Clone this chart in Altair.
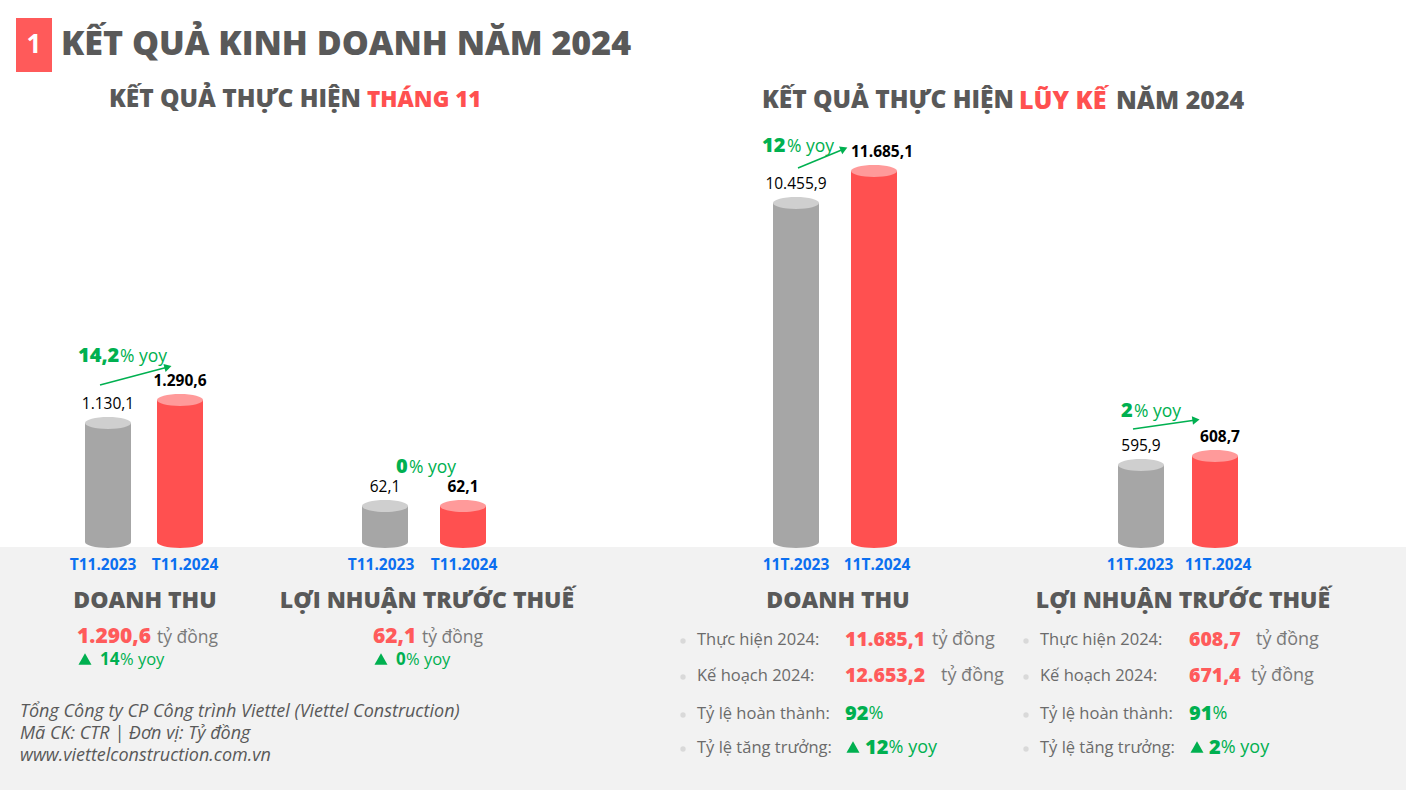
import altair as alt
import pandas as pd

# ---------------- data ----------------
month_cats = ["T11.2023", "T11.2024"]
month_revenue = [1130.1, 1290.6]
month_profit = [62.1, 62.1]
ytd_cats = ["11T.2023", "11T.2024"]
ytd_revenue = [10455.9, 11685.1]
ytd_profit = [595.9, 608.7]
chart_yoy = ["14,2", "0", "12", "2"]          # yoy labels above the bar pairs
month_yoy = ["14", "0"]                         # summary yoy (revenue, profit)
ytd_actual = [11685.1, 608.7]
ytd_plan = [12653.2, 671.4]
ytd_completion = ["92", "91"]
ytd_growth = ["12", "2"]
row_labels = ["Thực hiện 2024:", "Kế hoạch 2024:", "Tỷ lệ hoàn thành:", "Tỷ lệ tăng trưởng:"]
footer_lines = [
    "Tổng Công ty CP Công trình Viettel (Viettel Construction)",
    "Mã CK: CTR  |  Đơn vị: Tỷ đồng",
    "www.viettelconstruction.com.vn",
]

# ---------------- style ----------------
W, H = 1406, 790
FONT = "Open Sans"
DARK = "#595959"
GREY_TXT = "#7a7a7a"
RED = "#ff5050"
RED_TXT = "#ff5b5b"
RED_TOP = "#ff9a9a"
GREY = "#a6a6a6"
GREY_TOP = "#cfcfcf"
GREEN = "#00b050"
BLUE = "#0b6ff0"
PANEL = "#f2f2f2"
BASE_PX = 542
BAR_W = 46


def vn(v):
    s = f"{v:,.1f}"
    return s.replace(",", "X").replace(".", ",").replace("X", ".")


def ellipse_path(ry=0.26):
    k = 0.5523
    return (f"M -1 0 C -1 {-k*ry:.4f} {-k:.4f} {-ry} 0 {-ry} "
            f"C {k:.4f} {-ry} 1 {-k*ry:.4f} 1 0 "
            f"C 1 {k*ry:.4f} {k:.4f} {ry} 0 {ry} "
            f"C {-k:.4f} {ry} -1 {k*ry:.4f} -1 0 Z")


ELL = ellipse_path()


def T(text, x, y, size, color, weight="normal", align="left", style="normal", font=FONT):
    return alt.Chart(pd.DataFrame({"t": [text]})).mark_text(
        align=align, baseline="middle", fontSize=size, fontWeight=weight,
        fontStyle=style, font=font, color=color
    ).encode(x=alt.value(x), y=alt.value(y), text="t:N")


def R(x1, x2, y1, y2, color):
    return alt.Chart(pd.DataFrame({"a": [0]})).mark_rect(color=color).encode(
        x=alt.value(x1), x2=alt.value(x2), y=alt.value(y1), y2=alt.value(y2))


def arrow(x1, y1, x2, y2, angle):
    line = alt.Chart(pd.DataFrame({"a": [0]})).mark_rule(color=GREEN, strokeWidth=1.5).encode(
        x=alt.value(x1), y=alt.value(y1), x2=alt.value(x2), y2=alt.value(y2))
    head = alt.Chart(pd.DataFrame({"a": [0]})).mark_point(
        shape="triangle-right", filled=True, size=70, color=GREEN, opacity=1, angle=angle
    ).encode(x=alt.value(x2), y=alt.value(y2))
    return [line, head]


def tri(x, y, size=170):
    return alt.Chart(pd.DataFrame({"a": [0]})).mark_point(
        shape="triangle-up", filled=True, size=size, color=GREEN, opacity=1
    ).encode(x=alt.value(x), y=alt.value(y))


layers = []

# bottom panel
layers.append(R(0, W, 547, H, PANEL))

# title
layers.append(R(16, 52, 18, 72, "#ff5a5a"))
layers.append(T("1", 34, 45, 26, "white", "bold", "center"))
layers.append(T("KẾT QUẢ KINH DOANH NĂM 2024", 61, 45, 34, DARK, 800))

# subtitles
layers.append(T("KẾT QUẢ THỰC HIỆN", 361, 100, 24.5, DARK, 800, "right"))
layers.append(T("THÁNG 11", 367, 100, 22.5, RED, 800))
layers.append(T("KẾT QUẢ THỰC HIỆN", 1014, 101, 24.5, DARK, 800, "right"))
layers.append(T("LŨY KẾ", 1019, 101, 25, RED, 800))
layers.append(T("NĂM 2024", 1116, 101, 25, DARK, 800))

# ---------------- cylinder bar groups ----------------
groups = [
    dict(cats=month_cats, vals=month_revenue, xr=[108, 180], dom=[299.4, 4081.6], dx=0,
         cat_dx=[-5, 5]),
    dict(cats=month_cats, vals=month_profit, xr=[385, 463], dom=[0, 935], dx=0,
         cat_dx=[-4, 1]),
    dict(cats=ytd_cats, vals=ytd_revenue, xr=[796, 874], dom=[-2567, 18255], dx=8,
         cat_dx=[0, 3]),
    dict(cats=ytd_cats, vals=ytd_profit, xr=[1141, 1215], dom=[486.4, 1257.3], dx=5,
         cat_dx=[-1, 3]),
]
for g in groups:
    df = pd.DataFrame({
        "cat": g["cats"], "val": g["vals"], "idx": [0, 1],
        "base": [g["dom"][0]] * 2, "label": [vn(v) for v in g["vals"]],
    })
    xs = alt.Scale(type="point", domain=g["cats"], range=g["xr"], padding=0)
    ys = alt.Scale(domain=g["dom"], range=[BASE_PX, 0], zero=False, nice=False)
    X = alt.X("cat:N", scale=xs, axis=None)
    Y = alt.Y("val:Q", scale=ys, axis=None)
    Yb = alt.Y("base:Q", scale=ys, axis=None)
    base = alt.Chart(df)
    for i, (body_c, top_c, wt, ddx) in enumerate([(GREY, GREY_TOP, "normal", 0),
                                                  (RED, RED_TOP, "bold", g["dx"])]):
        sub = base.transform_filter(alt.datum.idx == i)
        layers.append(sub.mark_point(shape=ELL, size=BAR_W ** 2, filled=True, fill=body_c,
                                     strokeWidth=0, opacity=1).encode(x=X, y=Yb))
        layers.append(sub.mark_rule(strokeWidth=BAR_W, color=body_c).encode(
            x=X, y=Y, y2=alt.Y2("base:Q")))
        layers.append(sub.mark_point(shape=ELL, size=BAR_W ** 2, filled=True, fill=top_c,
                                     strokeWidth=0, opacity=1).encode(x=X, y=Y))
        layers.append(sub.mark_text(dy=-19, dx=ddx, fontSize=15.5, fontWeight=wt, font=FONT,
                                    color="black").encode(x=X, y=Y, text="label:N"))
        layers.append(sub.mark_text(dx=g["cat_dx"][i], fontSize=15.5, fontWeight="bold",
                                    font=FONT, color=BLUE).encode(
            x=X, y=alt.value(565), text="cat:N"))

# yoy annotations above bars
layers.append(T(chart_yoy[0], 78, 356, 20, GREEN, 800))
layers.append(T("% yoy", 120, 357, 17.5, GREEN))
layers += arrow(100, 385, 168, 367, 345.2)
layers.append(T(chart_yoy[1], 396, 467, 20, GREEN, 800))
layers.append(T("% yoy", 409, 468, 17.5, GREEN))
layers.append(T(chart_yoy[2], 762, 146, 20, GREEN, 800))
layers.append(T("% yoy", 787, 147, 17.5, GREEN))
layers += arrow(798, 168, 844, 149, 337.6)
layers.append(T(chart_yoy[3], 1121, 411, 20, GREEN, 800))
layers.append(T("% yoy", 1134, 412, 17.5, GREEN))
layers += arrow(1133, 429, 1196, 420, 351.9)

# ---------------- bottom left summary ----------------
layers.append(T("DOANH THU", 145, 601, 23, DARK, 800, "center"))
layers.append(T("LỢI NHUẬN TRƯỚC THUẾ", 427, 601, 23, DARK, 800, "center"))
for x0, val, yoy, unit_x in [(77, vn(month_revenue[1]), month_yoy[0], 157),
                             (373, vn(month_profit[1]), month_yoy[1], 422)]:
    layers.append(T(val, x0, 637, 21, RED_TXT, 800))
    layers.append(T("tỷ đồng", unit_x, 638, 17.5, GREY_TXT))
    layers.append(tri(x0 + 8, 659))
    layers.append(T(yoy, x0 + 23, 660, 17, GREEN, "bold"))
    layers.append(T("% yoy", x0 + 23 + 10 * len(yoy), 660, 16.5, GREEN))

# footer
for i, line in enumerate(footer_lines):
    layers.append(T(line, 20, 712 + 22 * i, 18, DARK, style="italic"))

# ---------------- bottom right summary ----------------
layers.append(T("DOANH THU", 838, 601, 23, DARK, 800, "center"))
layers.append(T("LỢI NHUẬN TRƯỚC THUẾ", 1183, 601, 23, DARK, 800, "center"))
row_y = [640, 676, 714, 748]
cols = [dict(bx=683, lx=697, vx=845, unit_x=[932, 941]),
        dict(bx=1026, lx=1040, vx=1189, unit_x=[1256, 1251])]
for c, col in enumerate(cols):
    for r, lab in enumerate(row_labels):
        layers.append(alt.Chart(pd.DataFrame({"a": [0]})).mark_point(
            shape="circle", filled=True, size=28, color="#d9d9d9", opacity=1).encode(
            x=alt.value(col["bx"]), y=alt.value(row_y[r] + 1)))
        layers.append(T(lab, col["lx"], row_y[r], 16.5, "#6b6b6b"))
    for r, v in enumerate([ytd_actual[c], ytd_plan[c]]):
        layers.append(T(vn(v), col["vx"], row_y[r], 19.5, RED_TXT, 800))
        layers.append(T("tỷ đồng", col["unit_x"][r], row_y[r], 18, GREY_TXT))
    layers.append(T(ytd_completion[c], col["vx"], row_y[2], 20, GREEN, 800))
    layers.append(T("%", col["vx"] + 11.8 * len(ytd_completion[c]), row_y[2], 18, GREEN))
    layers.append(tri(col["vx"] + 8, row_y[3] - 1, 170))
    layers.append(T(ytd_growth[c], col["vx"] + 20, row_y[3], 20, GREEN, 800))
    layers.append(T("% yoy", col["vx"] + 20 + 11.8 * len(ytd_growth[c]), row_y[3], 18, GREEN))

chart = alt.layer(*layers).resolve_scale(
    x="independent", y="independent"
).properties(
    width=W, height=H, padding=0, background="white",
    autosize=alt.AutoSizeParams(type="none"),
).configure_view(strokeWidth=0)

chart.save("out.html", embed_options={"renderer": "svg", "actions": False})
